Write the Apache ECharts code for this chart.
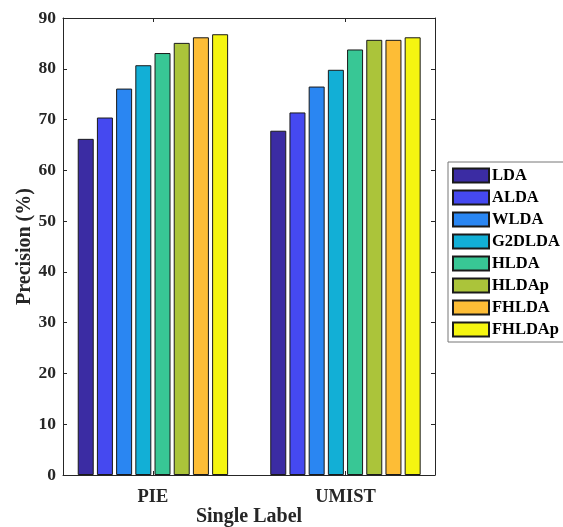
<!DOCTYPE html>
<html><head><meta charset="utf-8">
<script src="https://cdn.jsdelivr.net/npm/echarts@6/dist/echarts.min.js"></script>
<style>html,body{margin:0;padding:0;background:#fff}#c{width:563px;height:527px}</style>
</head><body><div id="c"></div>
<script>
const categories = ['PIE', 'UMIST'];
const categoryPositions = [1, 2];
const methods = ['LDA', 'ALDA', 'WLDA', 'G2DLDA', 'HLDA', 'HLDAp', 'FHLDA', 'FHLDAp'];
const LDA = [66.2, 67.8];
const ALDA = [70.4, 71.4];
const WLDA = [76.1, 76.5];
const G2DLDA = [80.7, 79.8];
const HLDA = [83.1, 83.8];
const HLDAp = [85.1, 85.7];
const FHLDA = [86.2, 85.7];
const FHLDAp = [86.8, 86.2];
const values = [LDA, ALDA, WLDA, G2DLDA, HLDA, HLDAp, FHLDA, FHLDAp];
const colors = ['#3b2ca3', '#4549f0', '#2a86f2', '#12afd6', '#38c795', '#abc43a', '#fdbd36', '#f5f511'];
const yTicks = [0, 10, 20, 30, 40, 50, 60, 70, 80, 90];

const font = '"Liberation Serif", "Times New Roman", serif';
const axisColor = '#262626';
const chart = echarts.init(document.getElementById('c'));
const series = methods.map((m, i) => ({
  name: m,
  type: 'bar',
  xAxisIndex: 0,
  yAxisIndex: 0,
  barWidth: 16,
  barGap: '20%',
  itemStyle: { color: colors[i], borderColor: '#1a1a1a', borderWidth: 1 },
  data: categoryPositions.map((x, j) => [x, values[i][j]])
}));
chart.setOption({
  animation: false,
  grid: { left: 63, top: 18, right: 128, bottom: 52, containLabel: false, outerBoundsMode: 'none' },
  legend: {
    orient: 'vertical', left: 448, top: 162,
    itemWidth: 36, itemHeight: 14, itemGap: 5,
    padding: [5, 30, 4, 4],
    borderColor: '#777', borderWidth: 1,
    icon: 'rect',
    textStyle: { fontFamily: font, fontWeight: 'bold', fontSize: 16.5, color: '#000', padding: [0, 0, 0, -2] },
    data: methods
  },
  xAxis: [{
    type: 'value', min: 0.533, max: 2.465, position: 'bottom',
    name: 'Single Label', nameLocation: 'middle', nameGap: 32, nameMoveOverlap: false,
    nameTextStyle: { fontFamily: font, fontWeight: 'bold', fontSize: 20, color: '#262626' },
    axisLine: { show: true, lineStyle: { color: axisColor } },
    axisTick: { show: true, inside: true, length: 4, customValues: categoryPositions, lineStyle: { color: axisColor } },
    axisLabel: { show: true, customValues: categoryPositions, margin: 13,
      formatter: v => categories[categoryPositions.indexOf(v)] || '',
      fontFamily: font, fontWeight: 'bold', fontSize: 18.5, color: '#262626' },
    splitLine: { show: false }
  }, {
    type: 'value', min: 0.533, max: 2.465, position: 'top',
    axisLine: { show: true, onZero: false, lineStyle: { color: axisColor } },
    axisTick: { show: true, inside: true, length: 4, customValues: categoryPositions, lineStyle: { color: axisColor } },
    axisLabel: { show: false },
    splitLine: { show: false }
  }],
  yAxis: [{
    type: 'value', min: 0, max: 90, interval: 10, position: 'left',
    name: 'Precision (%)', nameLocation: 'middle', nameGap: 28, nameMoveOverlap: false,
    nameTextStyle: { fontFamily: font, fontWeight: 'bold', fontSize: 20, color: '#262626' },
    axisLine: { show: true, lineStyle: { color: axisColor } },
    axisTick: { show: true, inside: true, length: 4, lineStyle: { color: axisColor } },
    axisLabel: { margin: 7, fontFamily: font, fontWeight: 'bold', fontSize: 17.5, color: '#262626' },
    splitLine: { show: false }
  }, {
    type: 'value', min: 0, max: 90, interval: 10, position: 'right',
    axisLine: { show: true, onZero: false, lineStyle: { color: axisColor } },
    axisTick: { show: true, inside: true, length: 4, lineStyle: { color: axisColor } },
    axisLabel: { show: false },
    splitLine: { show: false }
  }],
  series: series
});
</script></body></html>
